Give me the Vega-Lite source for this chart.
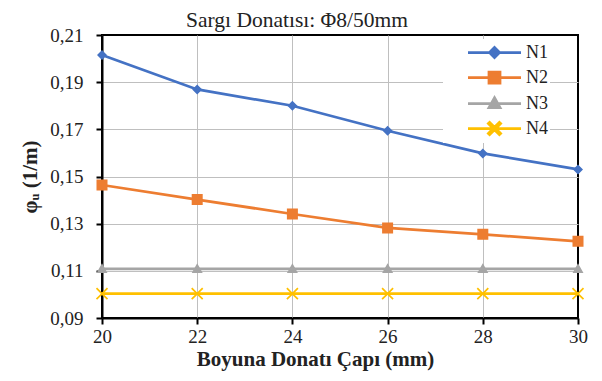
{
  "$schema": "https://vega.github.io/schema/vega-lite/v6.json",
  "width": 476,
  "height": 283,
  "autosize": "none",
  "padding": {"left": 102, "top": 35, "right": 24, "bottom": 63},
  "background": "white",
  "title": {
    "text": "Sargı Donatısı: Φ8/50mm",
    "anchor": "middle",
    "frame": "group",
    "dx": -43,
    "offset": 0,
    "dy": 5,
    "font": "Liberation Serif, Times New Roman, serif",
    "fontSize": 21.5,
    "fontWeight": "normal",
    "color": "#222222"
  },
  "data": {
    "values": [
      {"seri": "N1", "cap": 20, "phi": 0.2015},
      {"seri": "N1", "cap": 22, "phi": 0.1869},
      {"seri": "N1", "cap": 24, "phi": 0.1800},
      {"seri": "N1", "cap": 26, "phi": 0.1694},
      {"seri": "N1", "cap": 28, "phi": 0.1598},
      {"seri": "N1", "cap": 30, "phi": 0.1530},
      {"seri": "N2", "cap": 20, "phi": 0.1464},
      {"seri": "N2", "cap": 22, "phi": 0.1402},
      {"seri": "N2", "cap": 24, "phi": 0.1341},
      {"seri": "N2", "cap": 26, "phi": 0.1282},
      {"seri": "N2", "cap": 28, "phi": 0.1255},
      {"seri": "N2", "cap": 30, "phi": 0.1225},
      {"seri": "N3", "cap": 20, "phi": 0.1108},
      {"seri": "N3", "cap": 22, "phi": 0.1108},
      {"seri": "N3", "cap": 24, "phi": 0.1108},
      {"seri": "N3", "cap": 26, "phi": 0.1108},
      {"seri": "N3", "cap": 28, "phi": 0.1108},
      {"seri": "N3", "cap": 30, "phi": 0.1108},
      {"seri": "N4", "cap": 20, "phi": 0.1003},
      {"seri": "N4", "cap": 22, "phi": 0.1003},
      {"seri": "N4", "cap": 24, "phi": 0.1003},
      {"seri": "N4", "cap": 26, "phi": 0.1003},
      {"seri": "N4", "cap": 28, "phi": 0.1003},
      {"seri": "N4", "cap": 30, "phi": 0.1003}
    ]
  },
  "encoding": {
    "x": {
      "field": "cap",
      "type": "quantitative",
      "scale": {"domain": [20, 30], "nice": false, "zero": false},
      "axis": {
        "values": [20, 22, 24, 26, 28, 30],
        "format": "d",
        "title": "Boyuna Donatı Çapı (mm)",
        "grid": true,
        "gridColor": "#bfbfbf",
        "gridWidth": 1,
        "gridOpacity": {"condition": {"test": "datum.value >= 29.99", "value": 0}, "value": 1},
        "domainColor": "#000000",
        "domainWidth": 2,
        "tickColor": "#000000",
        "tickWidth": 2,
        "tickSize": 6,
        "labelFont": "Liberation Serif, Times New Roman, serif",
        "labelFontSize": 19,
        "labelColor": "#222222",
        "labelPadding": 3,
        "labelFlush": false,
        "titleFont": "Liberation Serif, Times New Roman, serif",
        "titleFontSize": 21,
        "titleFontWeight": "bold",
        "titleColor": "#222222",
        "titleX": 213,
        "titleY": 47,
        "titleAlign": "center",
        "titleBaseline": "alphabetic"
      }
    },
    "y": {
      "field": "phi",
      "type": "quantitative",
      "scale": {"domain": [0.09, 0.21], "nice": false, "zero": false},
      "axis": {
        "values": [0.09, 0.11, 0.13, 0.15, 0.17, 0.19, 0.21],
        "format": ".2f",
        "title": "φᵤ (1/m)",
        "grid": true,
        "gridColor": "#bfbfbf",
        "gridWidth": 1,
        "gridOpacity": {"condition": {"test": "datum.value >= 0.2099", "value": 0}, "value": 1},
        "domainColor": "#000000",
        "domainWidth": 2,
        "tickColor": "#000000",
        "tickWidth": 2,
        "tickSize": 6,
        "labelFont": "Liberation Serif, Times New Roman, serif",
        "labelFontSize": 19,
        "labelColor": "#222222",
        "labelPadding": 13,
        "labelFlush": false,
        "titleFont": "Liberation Serif, Times New Roman, serif",
        "titleFontSize": 21,
        "titleFontWeight": "bold",
        "titleColor": "#222222",
        "titleX": -72,
        "titleY": 141.5,
        "titleAngle": -90,
        "titleAlign": "center",
        "titleBaseline": "middle"
      }
    },
    "color": {
      "field": "seri",
      "type": "nominal",
      "scale": {"domain": ["N1", "N2", "N3", "N4"], "range": ["#4472C4", "#ED7D31", "#A5A5A5", "#FFC000"]},
      "legend": {
        "title": null,
        "orient": "none",
        "legendX": 341,
        "legendY": 4,
        "padding": 2,
        "fillColor": "white",
        "symbolSize": 400,
        "symbolOffset": 38,
        "symbolStrokeWidth": 2.75,
        "labelFont": "Liberation Serif, Times New Roman, serif",
        "labelFontSize": 18,
        "labelColor": "#222222",
        "labelOffset": 20,
        "rowPadding": 3
      }
    }
  },
  "layer": [
    {"mark": {"type": "line", "strokeWidth": 2.75}},
    {
      "mark": {"type": "point", "filled": true, "opacity": 1, "size": 400},
      "encoding": {
        "shape": {
          "field": "seri",
          "type": "nominal",
          "scale": {
            "domain": ["N1", "N2", "N3", "N4"],
            "range": [
              "M-2.65,0H2.65M0,-0.5L0.5,0L0,0.5L-0.5,0Z",
              "M-2.65,0H2.65M-0.55,-0.55H0.55V0.55H-0.55Z",
              "M-2.65,0H2.65M0,-0.58L0.55,0.4H-0.55Z",
              "M-2.65,0H2.65M0,-0.12L0.49,-0.61L0.61,-0.49L0.12,0L0.61,0.49L0.49,0.61L0,0.12L-0.49,0.61L-0.61,0.49L-0.12,0L-0.61,-0.49L-0.49,-0.61Z"
            ]
          }
        }
      }
    }
  ],
  "config": {
    "locale": {"number": {"decimal": ",", "thousands": ".", "grouping": [3], "currency": ["", ""]}},
    "view": {"stroke": "#000000", "strokeWidth": 2}
  }
}
